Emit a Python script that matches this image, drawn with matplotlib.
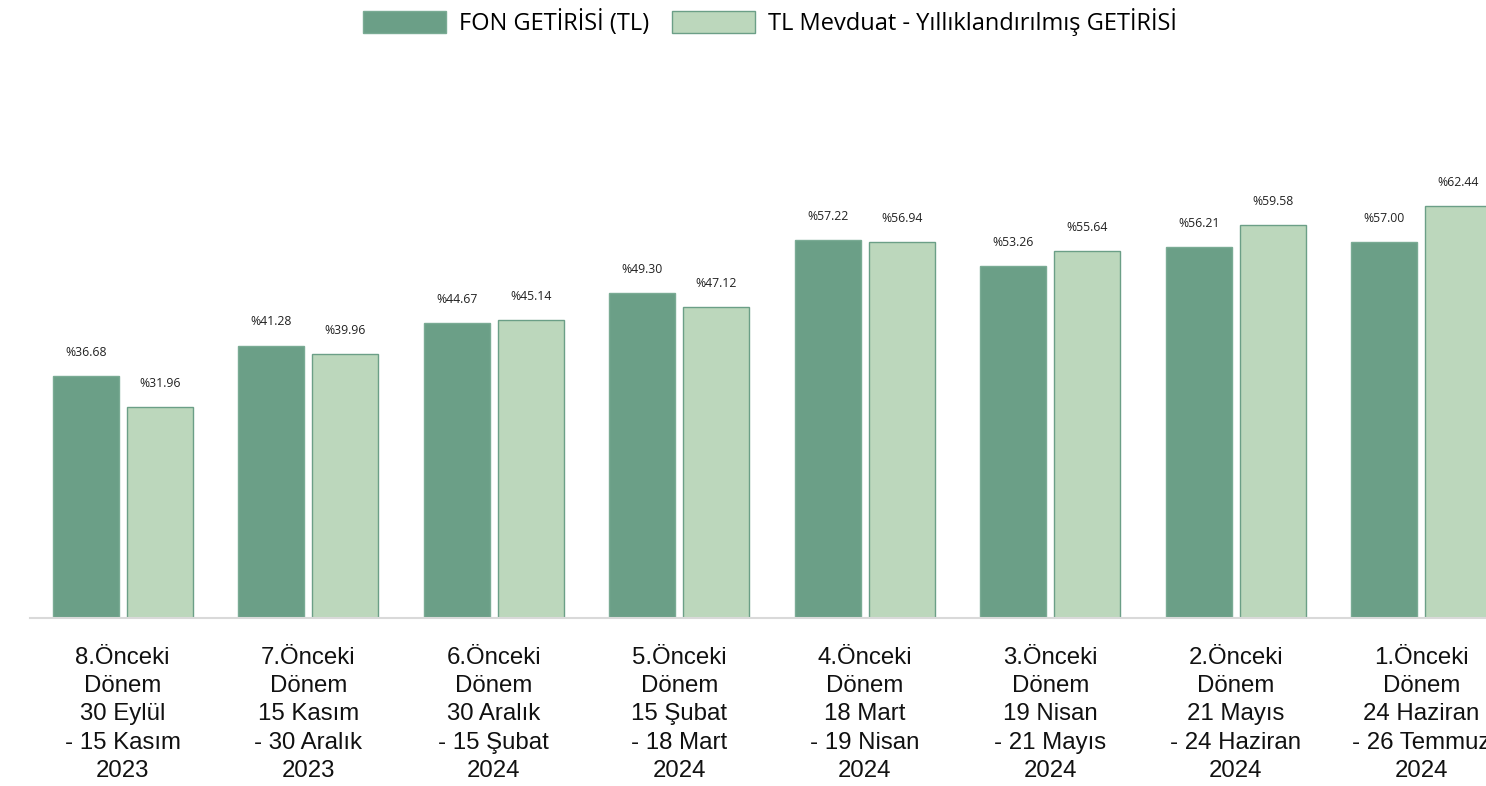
import matplotlib
matplotlib.use("Agg")
import matplotlib.pyplot as plt
import numpy as np

categories = [
    "8.Önceki\nDönem\n30 Eylül\n- 15 Kasım\n2023",
    "7.Önceki\nDönem\n15 Kasım\n- 30 Aralık\n2023",
    "6.Önceki\nDönem\n30 Aralık\n- 15 Şubat\n2024",
    "5.Önceki\nDönem\n15 Şubat\n- 18 Mart\n2024",
    "4.Önceki\nDönem\n18 Mart\n- 19 Nisan\n2024",
    "3.Önceki\nDönem\n19 Nisan\n- 21 Mayıs\n2024",
    "2.Önceki\nDönem\n21 Mayıs\n- 24 Haziran\n2024",
    "1.Önceki\nDönem\n24 Haziran\n- 26 Temmuz\n2024",
]
fon = [36.68, 41.28, 44.67, 49.30, 57.22, 53.26, 56.21, 57.00]
mevduat = [31.96, 39.96, 45.14, 47.12, 56.94, 55.64, 59.58, 62.44]
series_names = ["FON GETİRİSİ (TL)", "TL Mevduat - Yıllıklandırılmış GETİRİSİ"]

dark = "#6b9f87"
light = "#bcd7bc"

fig = plt.figure(figsize=(14.86, 7.86), dpi=100)
W, H = 1486, 786
ax = fig.add_axes([30 / W, (786 - 618) / H, (8 * 185.5) / W, 462 / H])

x = np.arange(len(categories))
bw = 0.356
off = 0.2
b1 = ax.bar(x - off, fon, bw, color=dark, edgecolor="#7aab94", linewidth=1.0, label=series_names[0])
b2 = ax.bar(x + off, mevduat, bw, color=light, edgecolor="#6b9f87", linewidth=1.0, label=series_names[1])

for bars, vals in ((b1, fon), (b2, mevduat)):
    for r, v in zip(bars, vals):
        ax.annotate(f"%{v:.2f}", (r.get_x() + r.get_width() / 2, v),
                    xytext=(0, 17), textcoords="offset points",
                    ha="center", va="center", fontsize=8.8, color="#222222",
                    family="Open Sans")

ax.set_xlim(-0.5, len(categories) - 0.5)
ax.set_ylim(0, 70)
ax.set_yticks([])
ax.set_xticks(x)
ax.set_xticklabels(categories, fontsize=17.3, family="Liberation Sans",
                   linespacing=1.36, color="#111111")
ax.tick_params(axis="x", length=0, pad=21)
for s in ("top", "right", "left"):
    ax.spines[s].set_visible(False)
ax.spines["bottom"].set_color("#d9d9d9")
ax.spines["bottom"].set_linewidth(1.5)

leg = fig.legend(handles=[b1, b2], labels=series_names, loc="center",
                 bbox_to_anchor=(770 / W, 1 - 22 / H), ncol=2, frameon=False,
                 prop={"family": "Open Sans", "size": 17},
                 handlelength=3.5, handleheight=1.1, columnspacing=1.0, handletextpad=0.55)

fig.savefig("out.png", dpi=100)
